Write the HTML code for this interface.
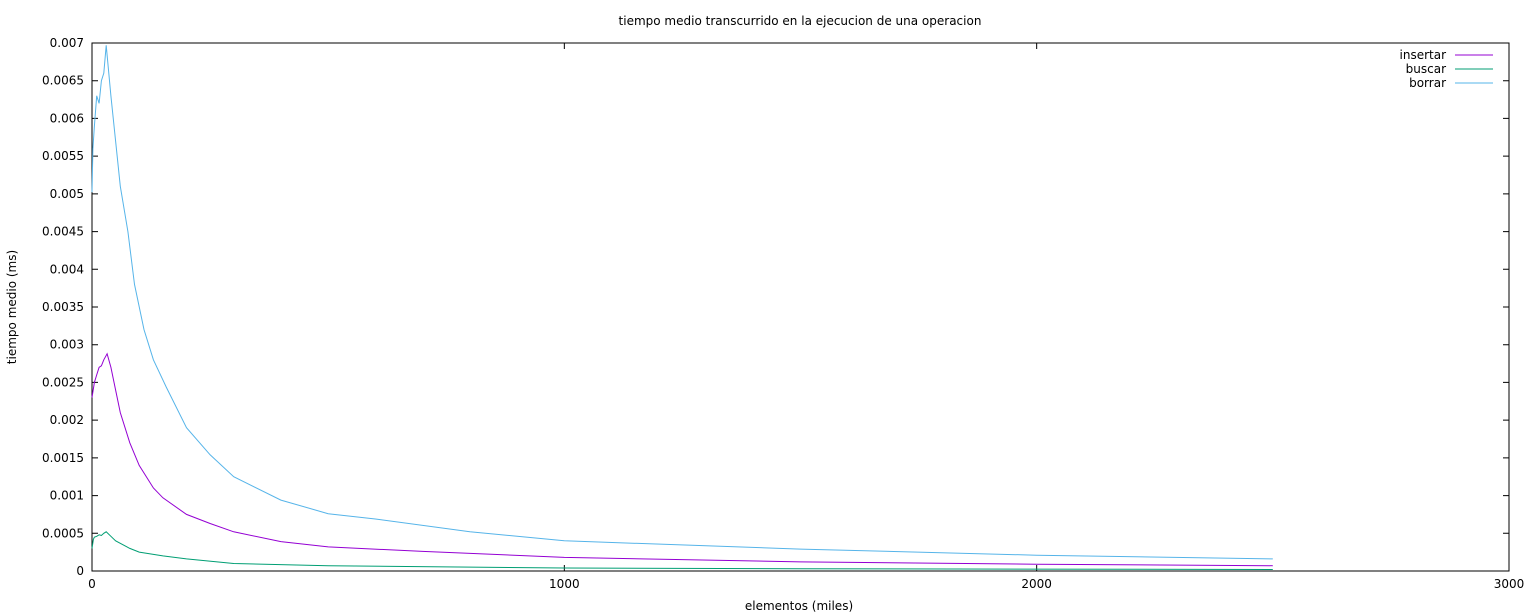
<!DOCTYPE html>
<html><head><meta charset="utf-8"><style>
html,body{margin:0;padding:0;background:#fff;}
svg{display:block;font-family:"DejaVu Sans","Liberation Sans",sans-serif;}
</style></head><body>
<svg id="c" width="1532" height="616"></svg>
<script>
const xTicks=[0,1000,2000,3000];
const yTicks=[0,0.0005,0.001,0.0015,0.002,0.0025,0.003,0.0035,0.004,0.0045,0.005,0.0055,0.006,0.0065,0.007];
const yTickLabels=["0","0.0005","0.001","0.0015","0.002","0.0025","0.003","0.0035","0.004","0.0045","0.005","0.0055","0.006","0.0065","0.007"];
const insertarX=[0,5,10,15,20,25,32,40,50,60,80,100,130,150,200,250,300,400,500,700,1000,1500,2000,2500];
const insertarY=[0.0023,0.0025,0.0026,0.0027,0.00272,0.0028,0.00288,0.0027,0.0024,0.0021,0.0017,0.0014,0.0011,0.00097,0.00075,0.00063,0.00052,0.00039,0.00032,0.00026,0.00018,0.00012,0.00009,0.00007];
const buscarX=[0,3,5,10,15,20,25,30,40,50,80,100,150,200,300,500,1000,1500,2500];
const buscarY=[0.0003,0.00042,0.00045,0.00046,0.00048,0.00047,0.0005,0.00052,0.00046,0.0004,0.0003,0.00025,0.0002,0.00016,0.0001,0.00007,0.00004,0.00003,0.00002];
const borrarX=[0,2,5,10,15,20,25,30,40,50,60,76,90,110,130,157,200,250,300,400,500,600,800,1000,1500,2000,2500];
const borrarY=[0.00502,0.0056,0.0059,0.0063,0.0062,0.0065,0.0066,0.00697,0.0063,0.0057,0.0051,0.0045,0.0038,0.0032,0.0028,0.00244,0.0019,0.00154,0.00125,0.00094,0.00076,0.00069,0.00052,0.0004,0.00029,0.00021,0.00016];
const L=92,R=1509,T=43,B=571;
const X=v=>L+(v/3000)*(R-L), Y=v=>B-(v/0.007)*(B-T);
const NS="http://www.w3.org/2000/svg", svg=document.getElementById('c');
function mk(t,a,txt){const e=document.createElementNS(NS,t);for(const k in a)e.setAttribute(k,a[k]);if(txt!==undefined)e.textContent=txt;svg.appendChild(e);return e;}
let e;
e=mk('rect',{x:L,y:T,width:R-L,height:B-T,fill:'none',stroke:'#000','stroke-width':1});


yTicks.forEach((v,i)=>{
 e=mk('path',{d:`M${L} ${Y(v)}h6M${R} ${Y(v)}h-6`,stroke:'#000'});
 
 
 e=mk('text',{x:L-8,y:Y(v)+4,'text-anchor':'end','font-size':12},yTickLabels[i]);
 
 
});
xTicks.forEach(v=>{
 e=mk('path',{d:`M${X(v)} ${B}v-6M${X(v)} ${T}v6`,stroke:'#000'});
 
 
 e=mk('text',{x:X(v),y:B+17,'text-anchor':'middle','font-size':12},String(v));
 
 
});
function series(xs,ys,col,name){
 const d=xs.map((x,i)=>(i?'L':'M')+X(x).toFixed(1)+' '+Y(ys[i]).toFixed(1)).join('');
 e=mk('path',{d,fill:'none',stroke:col,'stroke-width':1});
 
 
}
series(buscarX,buscarY,'#009e73','series-buscar');
series(insertarX,insertarY,'#9400d3','series-insertar');
series(borrarX,borrarY,'#56b4e9','series-borrar');
[['insertar','#9400d3'],['buscar','#009e73'],['borrar','#56b4e9']].forEach((l,i)=>{
 const y=55+i*14;
 e=mk('text',{x:1446,y:y+4,'text-anchor':'end','font-size':12},l[0]);
 
 
 e=mk('path',{d:`M1455 ${y}h38`,stroke:l[1]});
 
 
});
e=mk('text',{x:800,y:25,'text-anchor':'middle','font-size':12},'tiempo medio transcurrido en la ejecucion de una operacion');


e=mk('text',{x:799,y:610,'text-anchor':'middle','font-size':12},'elementos (miles)');


e=mk('text',{x:16,y:307,'text-anchor':'middle','font-size':12,transform:'rotate(-90 16 307)'},'tiempo medio (ms)');


</script>
</body></html>
